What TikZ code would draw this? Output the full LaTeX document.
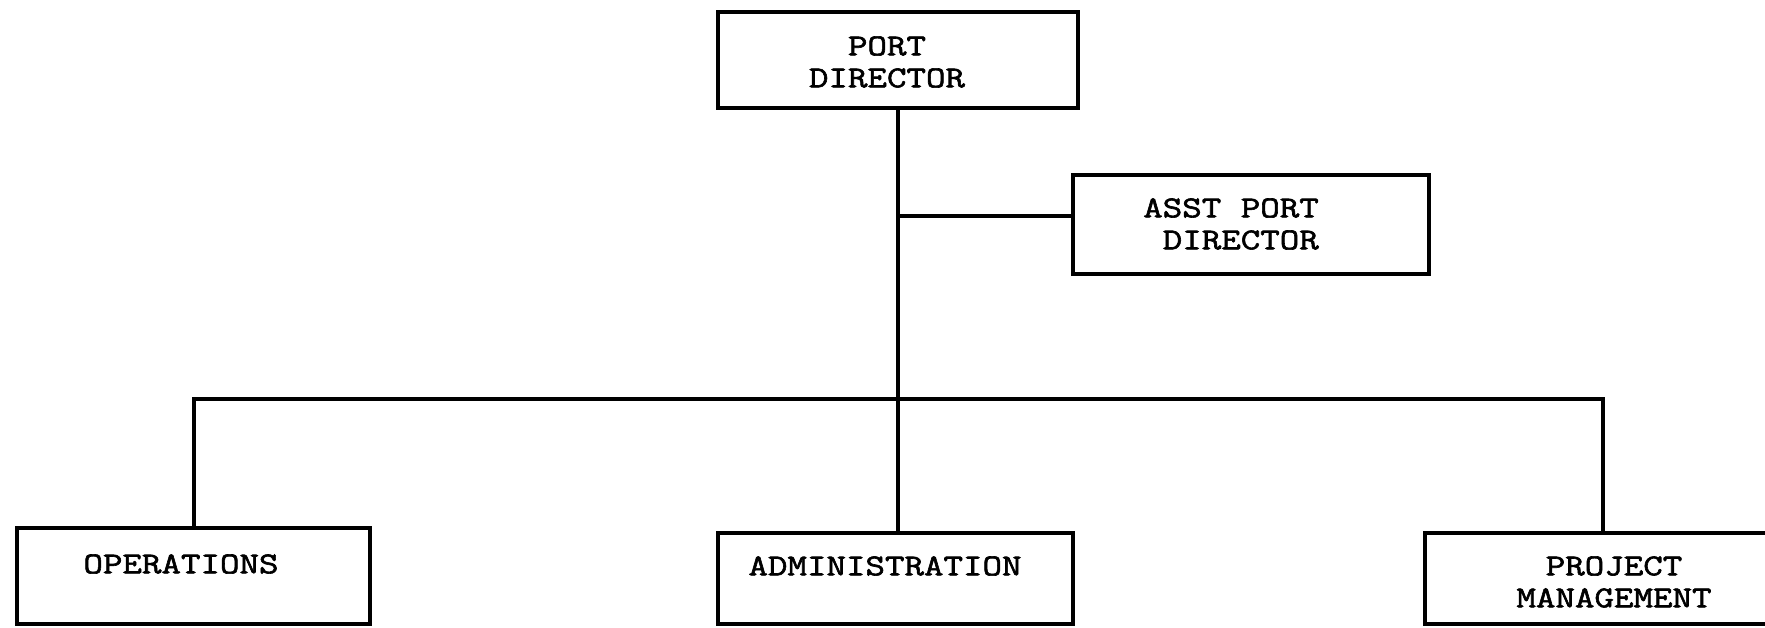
\documentclass[tikz,border=0pt]{standalone}
\usepackage{fontspec}
\newfontfamily\typewr{Latin Modern Mono}[FakeStretch=1.25, FakeBold=2]
\begin{document}
\begin{tikzpicture}[x=1pt,y=-1pt,
  box/.style={draw, line width=3.5pt, rectangle, inner sep=0pt},
  lbl/.style={font=\typewr\fontsize{30.3}{32}\selectfont, align=center, inner sep=0pt},
  wire/.style={line width=4pt}]
\useasboundingbox (0,0) rectangle (1765,628);
\clip (0,0) rectangle (1765,628);
% boxes
\node[box, minimum width=360pt, minimum height=96pt] (pd) at (898,60) {};
\node[box, minimum width=356pt, minimum height=99pt] (asst) at (1251,224.5) {};
\node[box, minimum width=353pt, minimum height=96pt] (ops) at (193.5,576) {};
\node[box, minimum width=355pt, minimum height=91pt] (adm) at (895.5,578.5) {};
\node[box, minimum width=355pt, minimum height=91pt] (pm) at (1602.5,578.5) {};
% labels
\node[lbl] (pdt) at (887,62) {PORT\\DIRECTOR};
\node[lbl, align=right, anchor=east] (asstt) at (1319,224) {ASST PORT\\DIRECTOR};
\node[lbl] (opst) at (181,564) {OPERATIONS};
\node[lbl] (admt) at (885,566) {ADMINISTRATION};
\node[lbl] (pmt) at (1614,582) {PROJECT\\MANAGEMENT};
% connectors
\draw[wire] (pd.south) -- (pd.south |- adm.north);
\draw[wire] ([yshift=8pt]asst.west) coordinate (aj) -- (aj -| pd.south);
\draw[wire] (ops.north) -- ++(0,-127) coordinate (bl) -- (bl -| pm.north) -- (pm.north);
\end{tikzpicture}
\end{document}
